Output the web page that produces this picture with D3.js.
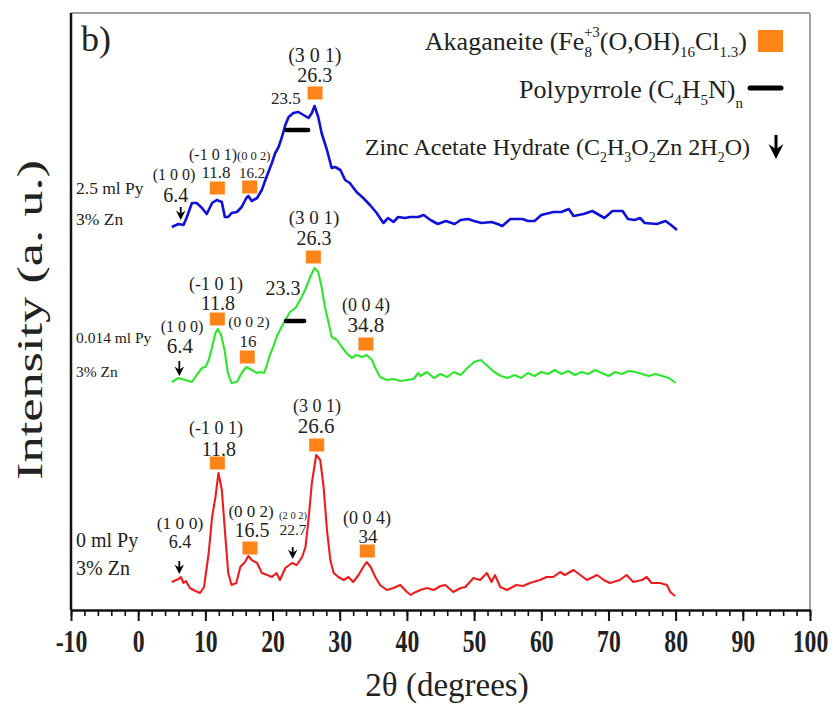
<!DOCTYPE html>
<html>
<head>
<meta charset="utf-8">
<script src="https://cdn.jsdelivr.net/npm/d3@7/dist/d3.min.js"></script>
<style>
  body { margin: 0; background: #fff; }
  text { font-family: 'Liberation Serif', 'Times New Roman', serif; fill: #222; }
</style>
</head>
<body>
<div id="chart"></div>
<script>
// XRD scans, [2theta, intensity (a.u., stacked)]
const scan0Py = [[5.0,28],[6.0,31],[6.35,33],[6.75,27],[7.1,29],[7.7,22],[8.5,19],[9.2,17],[9.8,23],[10.5,57],[11.0,93],[11.5,113],[11.95,137],[12.45,120],[12.9,80],[13.4,37],[13.9,25],[14.6,27],[15.2,43],[15.9,48],[16.4,54],[16.9,50],[17.7,47],[18.4,37],[19.2,35],[19.9,33],[20.6,37],[21.1,30],[21.9,42],[22.9,47],[23.6,45],[24.4,53],[24.9,63],[25.35,90],[25.85,127],[26.5,155],[27.1,150],[27.6,123],[28.1,80],[28.6,50],[29.1,37],[29.8,33],[30.6,30],[31.3,33],[32.0,28],[32.8,35],[33.5,43],[34.0,48],[34.6,43],[35.3,33],[36.0,25],[37.0,20],[38.0,22],[39.0,25],[40.0,18],[40.6,15],[41.0,17],[42.0,20],[43.0,22],[44.0,20],[45.0,24],[45.7,25],[46.9,18],[48.0,22],[48.7,23],[49.9,32],[50.9,30],[51.9,37],[52.6,28],[53.1,35],[53.9,23],[54.9,20],[56.3,25],[57.3,24],[58.3,27],[59.8,30],[60.8,33],[61.8,33],[62.8,38],[63.5,35],[64.8,40],[65.8,35],[66.8,30],[68.3,35],[69.3,30],[70.2,27],[71.7,30],[72.7,35],[73.7,28],[75.0,30],[75.7,33],[76.4,27],[77.7,27],[78.7,25],[79.2,18],[79.9,14]]

const scan014Py = [[5.0,228],[6.0,232],[7.0,230],[8.0,228],[8.7,235],[9.5,242],[10.0,243],[10.5,250],[11.0,263],[11.5,277],[11.85,281],[12.35,275],[12.85,260],[13.35,237],[13.9,227],[14.7,228],[15.4,237],[16.1,243],[16.9,240],[17.7,237],[18.2,238],[18.75,237],[19.25,247],[19.6,255],[20.1,263],[20.6,273],[21.1,280],[21.9,290],[22.6,298],[23.4,302],[24.1,310],[24.85,320],[25.6,333],[26.25,342],[26.8,338],[27.3,323],[27.8,303],[28.35,287],[28.8,273],[29.6,270],[30.3,263],[31.0,257],[31.8,252],[32.5,255],[33.3,253],[34.0,255],[34.8,250],[35.3,242],[36.0,233],[37.0,230],[38.0,231],[39.0,229],[40.0,230],[41.0,231],[41.7,237],[42.0,234],[43.0,238],[44.0,232],[45.0,236],[46.0,233],[47.0,238],[48.0,235],[49.0,242],[50.0,248],[51.0,250],[52.0,244],[53.0,238],[54.0,234],[55.0,232],[56.0,235],[57.0,232],[58.0,237],[59.0,234],[60.0,238],[61.0,236],[62.0,240],[63.0,236],[64.0,239],[65.0,235],[66.0,238],[67.0,236],[68.0,240],[69.0,237],[70.0,234],[71.0,238],[72.0,236],[73.0,239],[74.0,238],[75.0,236],[76.0,234],[77.0,236],[78.0,234],[79.0,232],[80.0,227]]

const scan25Py = [[5.0,383],[6.0,386],[6.75,385],[7.25,393],[8.0,407],[8.7,407],[9.5,402],[10.2,396],[11.0,407],[11.7,410],[12.45,408],[12.9,393],[13.4,393],[13.9,397],[14.7,398],[15.4,403],[16.1,412],[16.4,414],[16.9,409],[17.7,412],[18.4,420],[19.1,433],[19.9,447],[20.4,457],[20.9,463],[21.4,473],[21.9,485],[22.4,493],[23.1,497],[23.85,498],[24.6,495],[25.35,492],[25.85,497],[26.25,504],[26.8,493],[27.3,477],[28.1,460],[28.8,442],[29.3,443],[30.1,440],[30.8,430],[31.5,427],[32.5,418],[33.5,412],[34.5,405],[35.5,397],[36.5,387],[37.2,392],[38.0,388],[38.7,393],[39.7,392],[40.5,393],[41.7,393],[42.5,395],[43.5,390],[44.6,386],[45.8,389],[47.1,386],[48.0,390],[49.1,391],[50.0,389],[51.1,387],[52.6,388],[53.5,386],[54.2,384],[55.4,391],[57.2,391],[58.0,389],[59.0,389],[60.0,395],[61.8,398],[63.0,398],[64.1,401],[64.8,394],[66.3,396],[67.6,399],[69.4,392],[70.6,399],[72.1,399],[72.9,391],[73.9,390],[74.7,392],[75.4,387],[77.2,386],[78.5,389],[79.5,384],[80.2,380]]

const scanColors = ['#ee1c1c', '#2ee62e', '#1010d8']

// sample names: [line1, line2, intensity of line1, intensity of line2, size]
const sampleNames = [
  ['0 ml Py', '3% Zn', 63, 35, 20],
  ['0.014 ml Py', '3% Zn', 267, 233, 15.5],
  ['2.5 ml Py', '3% Zn', 416, 385, 17.5]
]

// Akaganeite peaks [2theta, intensity]
const akaganeiteMarks = [
  [11.78, 147], [16.64, 62], [26.57, 165], [34.1, 59],
  [11.78, 291], [16.24, 253], [26.07, 353], [33.9, 266],
  [11.78, 422], [16.6, 423], [26.33, 517]
]

// Polypyrrole bars [from, to, intensity]
const polypyrroleBars = [[22.0, 24.7, 289], [22.1, 25.3, 480]]

// Zinc acetate arrows [2theta, top, tip]
const zincArrows = [[6.12, 49, 36], [23.0, 63, 51], [6.12, 249, 234], [6.33, 403, 390]]

// peak labels [text, 2theta, intensity, font size]
const peakText = [
  ['(1 0 0)', 6.22, 81, 17.5], ['6.4', 6.22, 62, 18],
  ['(-1 0 1)', 11.58, 176, 18], ['11.8', 12.0, 154, 20],
  ['(0 0 2)', 16.8, 93, 17], ['16.5', 16.94, 73, 20],
  ['(2 0 2)', 23.05, 91, 10.5], ['22.7', 23.05, 75, 15.5],
  ['(3 0 1)', 26.62, 198, 18], ['26.6', 26.47, 177, 21],
  ['(0 0 4)', 34.06, 86, 18], ['34', 34.2, 67, 19],

  ['(1 0 0)', 6.52, 278, 16], ['6.4', 6.22, 257, 21],
  ['(-1 0 1)', 11.58, 320, 18], ['11.8', 11.88, 300, 20],
  ['(0 0 2)', 16.5, 283, 15.5], ['16', 16.35, 263, 17],
  ['23.3', 21.56, 315, 20],
  ['(3 0 1)', 26.17, 386, 19], ['26.3', 26.17, 365, 20],
  ['(0 0 4)', 33.9, 299, 18], ['34.8', 33.9, 278, 21],

  ['(1 0 0)', 5.33, 430, 16], ['6.4', 5.6, 408, 20],
  ['(-1 0 1)', 11.14, 450, 16], ['11.8', 11.58, 432, 17],
  ['(0 0 2)', 17.2, 450, 12.5], ['16.2', 16.96, 432, 15],
  ['23.5', 22.0, 506, 17],
  ['(3 0 1)', 26.3, 548, 20], ['26.3', 26.3, 528, 20]
]

const xTicks = [-10, 0, 10, 20, 30, 40, 50, 60, 70, 80, 90, 100]

const margin = { top: 13, left: 71, right: 24, bottom: 97 }
const width = 834 - margin.left - margin.right
const height = 707 - margin.top - margin.bottom

const svg = d3
  .select('#chart')
  .append('svg')
  .attr('width', 834)
  .attr('height', 707)
  .append('g')
  .attr('transform', 'translate(' + margin.left + ',' + margin.top + ')')

const x = d3.scaleLinear().domain([-10, 100]).range([0, width])
const y = d3.scaleLinear().domain([0, 597]).range([height, 0])

// frame
svg.append('line')
  .attr('x1', 0).attr('x2', width).attr('y1', 0).attr('y2', 0)
  .attr('stroke', '#a0a0a0').attr('stroke-width', 2)
svg.append('line')
  .attr('x1', width).attr('x2', width).attr('y1', 0).attr('y2', height)
  .attr('stroke', '#a0a0a0').attr('stroke-width', 2)
svg.append('line')
  .attr('x1', 0).attr('x2', 0).attr('y1', 0).attr('y2', height)
  .attr('stroke', '#111').attr('stroke-width', 2.5)

// x axis, minor ticks first
svg.append('g')
  .attr('transform', `translate(0,${height})`)
  .call(d3.axisBottom(x).tickValues(d3.range(-10, 101, 2)).tickSize(6).tickFormat(''))
  .call(g => g.select('.domain').remove())
  .call(g => g.selectAll('line').attr('stroke', '#111').attr('stroke-width', 1.6))

svg.append('g')
  .attr('transform', `translate(0,${height})`)
  .call(d3.axisBottom(x).tickValues(xTicks).tickSize(11).tickSizeOuter(0)
    .tickFormat(d => String(d)))
  .call(g => g.select('.domain').attr('stroke', '#111').attr('stroke-width', 2.5))
  .call(g => g.selectAll('line').attr('stroke', '#111').attr('stroke-width', 2))
  // labels are tall and narrow in the original
  .call(g => g.selectAll('text')
    .attr('y', 16)
    .attr('transform', 'scale(0.95,1.25)')
    .attr('font-size', 25)
    .attr('font-weight', 'bold')
    .attr('fill', '#111')
    .style('font-family', "'Liberation Serif', serif"))

svg.append('text')
  .attr('x', 376)
  .attr('y', height + 86)
  .attr('text-anchor', 'middle')
  .attr('font-size', 33)
  .text('2θ (degrees)')

svg.append('text')
  .attr('transform', `translate(${-29},${307}) rotate(-90)`)
  .attr('text-anchor', 'middle')
  .attr('font-size', 35)
  .attr('textLength', 320)
  .attr('lengthAdjust', 'spacingAndGlyphs')
  .text('Intensity (a. u.)')

svg.append('text')
  .attr('x', 10)
  .attr('y', 38)
  .attr('font-size', 36)
  .text('b)')

// scans
const line = d3.line()
  .x(d => x(d[0]))
  .y(d => y(d[1]))

svg.selectAll('.scan')
  .data([scan0Py, scan014Py, scan25Py])
  .enter()
  .append('path')
  .attr('class', 'scan')
  .attr('d', line)
  .attr('fill', 'none')
  .attr('stroke', (d, i) => scanColors[i])
  .attr('stroke-width', (d, i) => (i === 2 ? 2.6 : 2.1))
  .attr('stroke-linejoin', 'round')

// sample names
sampleNames.forEach(function(d) {
  svg.append('text').attr('x', 5).attr('y', y(d[2])).attr('font-size', d[4]).text(d[0])
  svg.append('text').attr('x', 5).attr('y', y(d[3])).attr('font-size', d[4]).text(d[1])
})

// markers
svg.selectAll('.aka')
  .data(akaganeiteMarks)
  .enter()
  .append('rect')
  .attr('class', 'aka')
  .attr('x', d => x(d[0]) - 7.5)
  .attr('y', d => y(d[1]) - 6.5)
  .attr('width', 15)
  .attr('height', 13)
  .attr('fill', '#fe8417')

svg.selectAll('.ppy')
  .data(polypyrroleBars)
  .enter()
  .append('line')
  .attr('x1', d => x(d[0]))
  .attr('x2', d => x(d[1]))
  .attr('y1', d => y(d[2]))
  .attr('y2', d => y(d[2]))
  .attr('stroke', '#000')
  .attr('stroke-width', 4.5)
  .attr('stroke-linecap', 'round')

function arrow(g, cx, top, tip, w, sw) {
  g.append('line')
    .attr('x1', cx).attr('x2', cx).attr('y1', top).attr('y2', tip - 4)
    .attr('stroke', '#000').attr('stroke-width', sw)
  g.append('path')
    .attr('d', `M${cx},${tip} L${cx - w},${tip - w * 2} L${cx},${tip - w * 1.3} L${cx + w},${tip - w * 2} Z`)
    .attr('fill', '#000')
}

zincArrows.forEach(d => arrow(svg, x(d[0]), y(d[1]), y(d[2]), 4.8, 1.8))

svg.selectAll('.peak')
  .data(peakText)
  .enter()
  .append('text')
  .attr('class', 'peak')
  .attr('x', d => x(d[1]))
  .attr('y', d => y(d[2]))
  .attr('text-anchor', 'middle')
  .attr('font-size', d => d[3])
  .text(d => d[0])

// legend
const legend = svg.append('g')

const aka = legend.append('text')
  .attr('x', 676).attr('y', 37)
  .attr('text-anchor', 'end')
  .attr('font-size', 26)
aka.append('tspan').text('Akaganeite (Fe')
aka.append('tspan').attr('font-size', 15).attr('dy', 7).text('8')
aka.append('tspan').attr('font-size', 15).attr('dx', -8).attr('dy', -20).text('+3')
aka.append('tspan').attr('dy', 13).text('(O,OH)')
aka.append('tspan').attr('font-size', 15).attr('dy', 7).text('16')
aka.append('tspan').attr('dy', -7).text('Cl')
aka.append('tspan').attr('font-size', 15).attr('dy', 7).text('1.3')
aka.append('tspan').attr('dy', -7).text(')')

legend.append('rect')
  .attr('x', 687).attr('y', 17).attr('width', 25).attr('height', 22)
  .attr('fill', '#fe8417')

const ppy = legend.append('text')
  .attr('x', 672).attr('y', 85)
  .attr('text-anchor', 'end')
  .attr('font-size', 26)
ppy.append('tspan').text('Polypyrrole (C')
ppy.append('tspan').attr('font-size', 15).attr('dy', 7).text('4')
ppy.append('tspan').attr('dy', -7).text('H')
ppy.append('tspan').attr('font-size', 15).attr('dy', 7).text('5')
ppy.append('tspan').attr('dy', -7).text('N)')
ppy.append('tspan').attr('font-size', 15).attr('dy', 10).text('n')

legend.append('line')
  .attr('x1', 679).attr('x2', 710).attr('y1', 75).attr('y2', 75)
  .attr('stroke', '#000').attr('stroke-width', 5).attr('stroke-linecap', 'round')

const zinc = legend.append('text')
  .attr('x', 679).attr('y', 142)
  .attr('text-anchor', 'end')
  .attr('font-size', 24)
zinc.append('tspan').text('Zinc Acetate Hydrate (C')
zinc.append('tspan').attr('font-size', 14).attr('dy', 7).text('2')
zinc.append('tspan').attr('dy', -7).text('H')
zinc.append('tspan').attr('font-size', 14).attr('dy', 7).text('3')
zinc.append('tspan').attr('dy', -7).text('O')
zinc.append('tspan').attr('font-size', 14).attr('dy', 7).text('2')
zinc.append('tspan').attr('dy', -7).text('Zn 2H')
zinc.append('tspan').attr('font-size', 14).attr('dy', 7).text('2')
zinc.append('tspan').attr('dy', -7).text('O)')

arrow(legend, 705, 122, 146, 7.5, 3)
</script>
</body>
</html>
